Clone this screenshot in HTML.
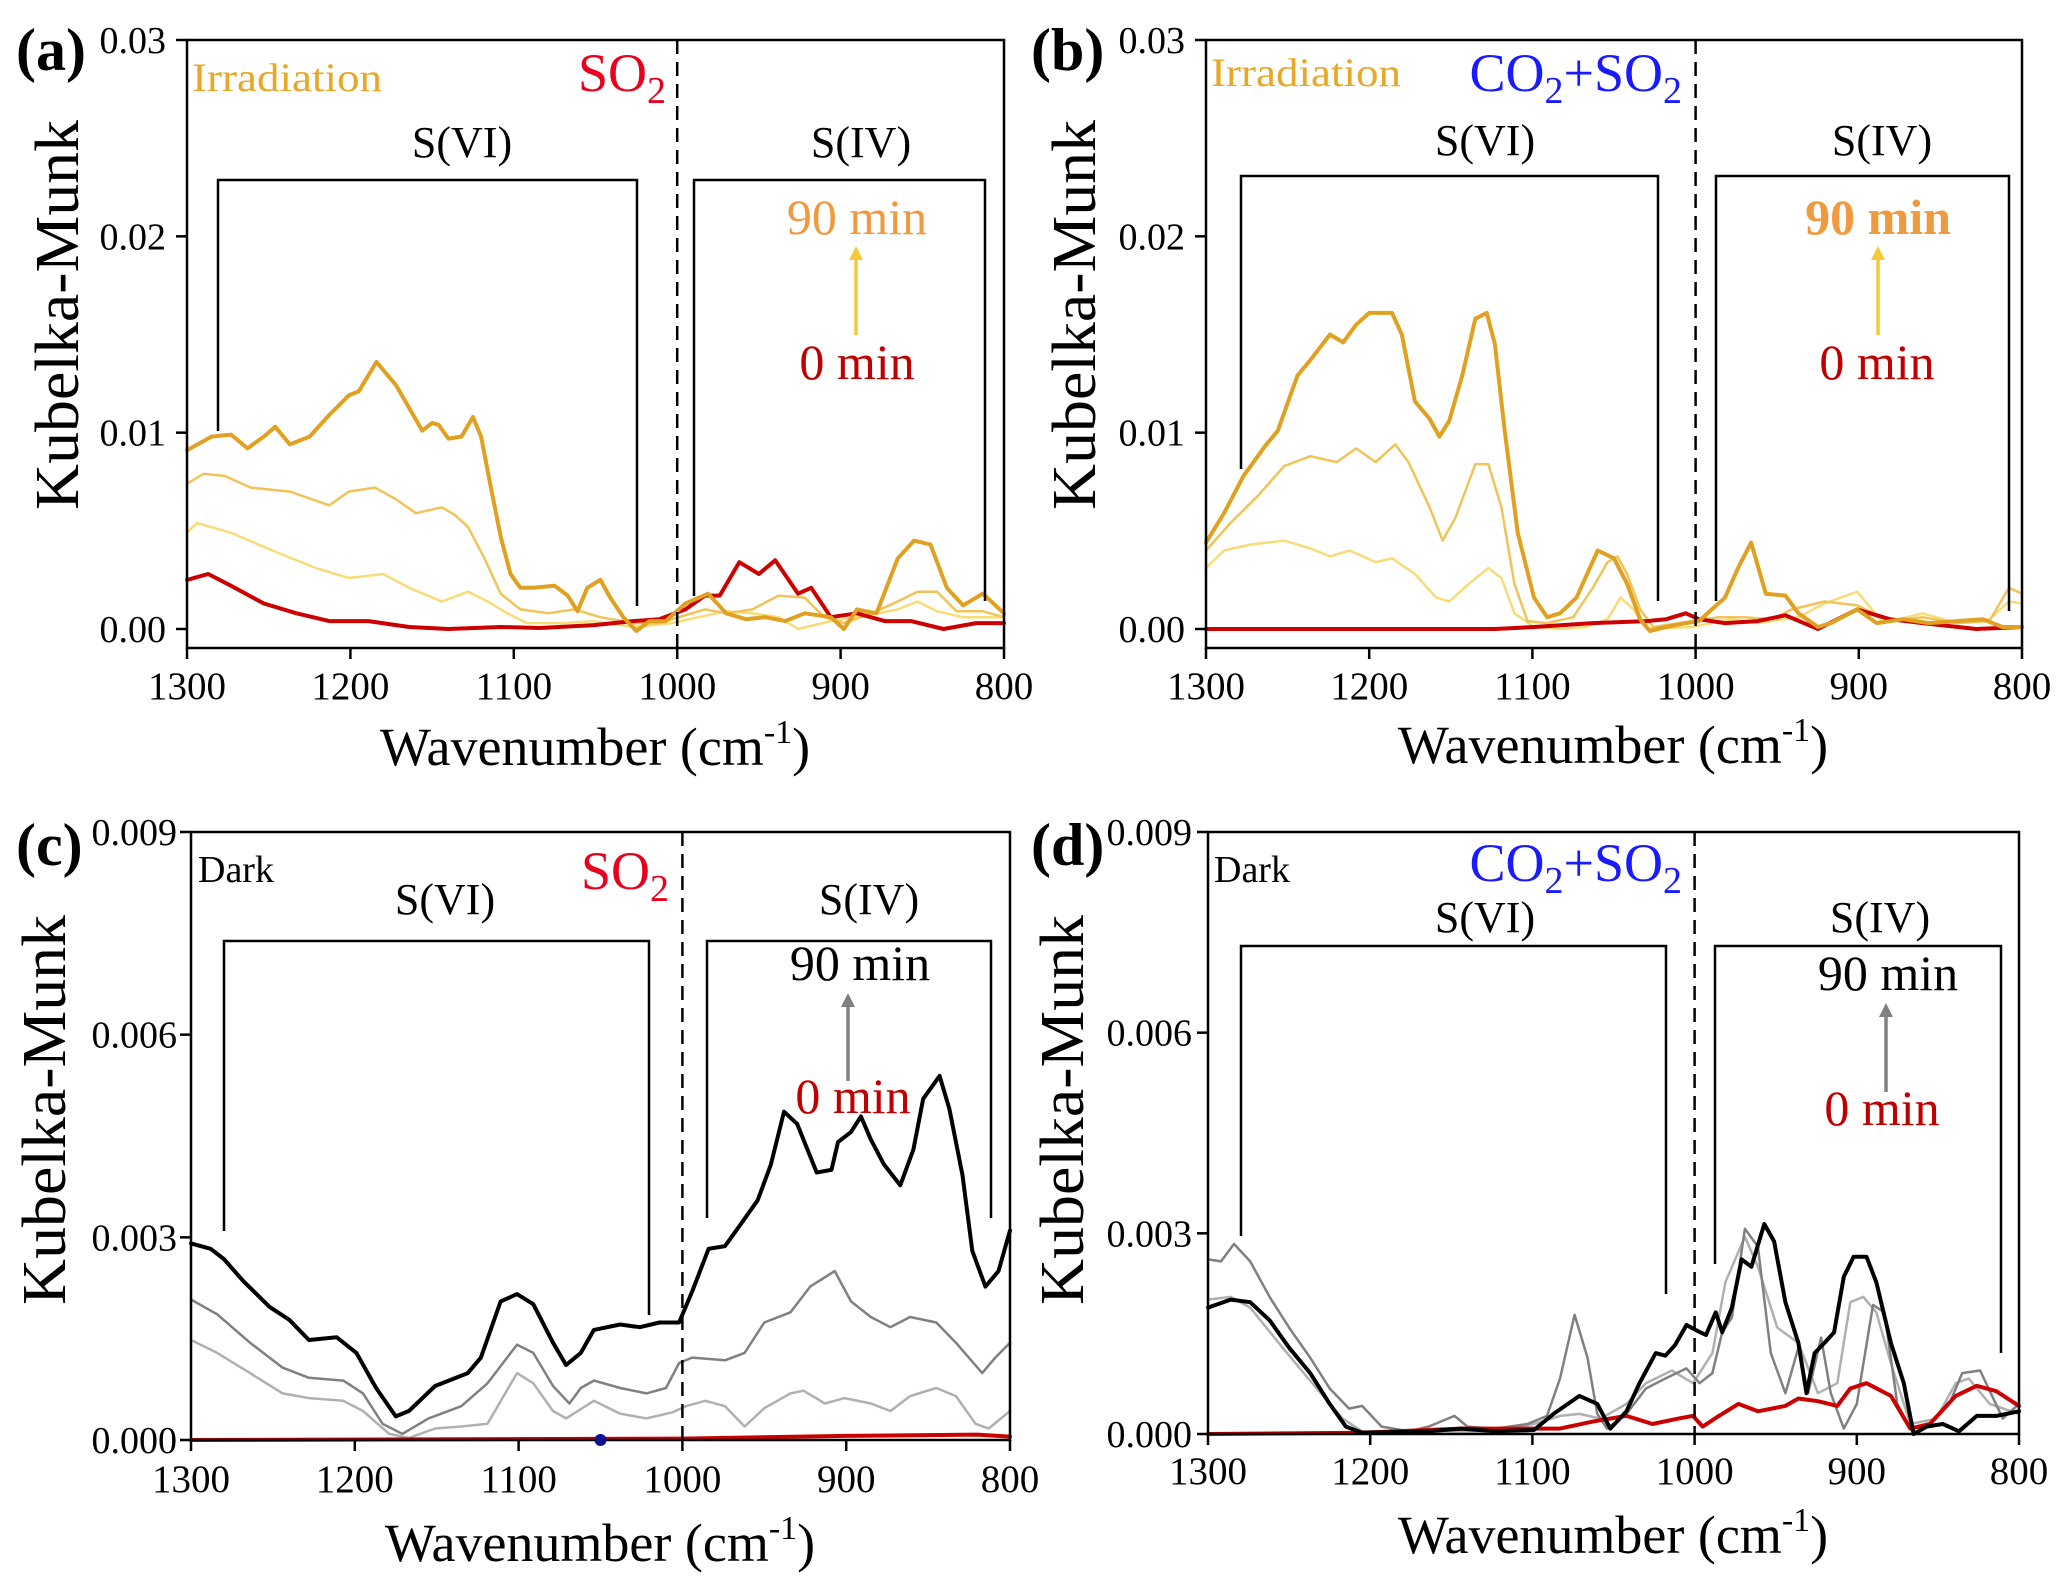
<!DOCTYPE html>
<html><head><meta charset="utf-8"><title>Kubelka-Munk spectra</title>
<style>
html,body{margin:0;padding:0;background:#fff;}
svg{display:block;font-family:"Liberation Serif",serif;}
</style></head>
<body>
<svg id="fig" xmlns="http://www.w3.org/2000/svg" width="2067" height="1590" viewBox="0 0 2067 1590"></svg>
<script>
// ---- data (values in units of 1e-3 Kubelka-Munk) ----
const xTicks = [1300, 1200, 1100, 1000, 900, 800];
const yTicksTop = [0, 0.01, 0.02, 0.03];
const yTickLabelsTop = ["0.00", "0.01", "0.02", "0.03"];
const yTicksBot = [0, 0.003, 0.006, 0.009];
const yTickLabelsBot = ["0.000", "0.003", "0.006", "0.009"];

// panel a
const aWn90 = [1300,1285,1273,1263,1253,1246,1237,1225,1213,1201,1195,1184,1172,1156,1150,1146,1140,1132,1125,1120,1114,1108,1102,1096,1088,1075,1067,1061,1055,1047,1041,1033,1025,1017,1007,995,981,970,958,946,934,922,906,898,890,878,865,855,845,835,825,813,800];
const aVal90 = [9.1,9.8,9.9,9.2,9.8,10.3,9.4,9.8,10.9,11.9,12.1,13.6,12.4,10.1,10.5,10.4,9.7,9.8,10.8,9.8,7.2,4.7,2.8,2.1,2.1,2.2,1.7,0.9,2.1,2.5,1.6,0.6,-0.1,0.4,0.4,1.3,1.8,0.8,0.5,0.6,0.4,0.8,0.6,0,1.0,0.8,3.6,4.5,4.3,2.1,1.2,1.8,0.8];
const aWn60 = [1300,1290,1277,1261,1237,1213,1201,1185,1172,1160,1144,1136,1128,1118,1108,1096,1079,1063,1047,1027,1011,999,983,970,954,938,922,910,898,881,865,853,841,829,813,800];
const aVal60 = [7.4,7.9,7.8,7.2,7.0,6.3,7.0,7.2,6.6,5.9,6.2,5.8,5.2,3.6,1.8,1.0,0.8,1.0,0.6,0.3,0.3,0.6,1.0,0.8,1.0,1.7,1.6,0.6,0.3,0.8,1.4,1.9,1.9,0.9,0.9,0.6];
const aWn30 = [1300,1294,1273,1245,1221,1201,1180,1164,1144,1128,1116,1104,1092,1071,1051,1027,1003,987,970,954,938,926,906,890,865,853,841,825,800];
const aVal30 = [4.9,5.4,4.9,3.9,3.1,2.6,2.8,2.1,1.4,1.9,1.4,0.8,0.3,0.3,0.4,0.1,0.3,0.6,0.9,0.8,0.6,0,0.4,0.6,1.0,1.4,0.9,0.6,0.6];
const aWn0 = [1300,1287,1273,1253,1233,1213,1189,1164,1140,1108,1084,1051,1027,1011,995,983,974,962,950,940,926,918,906,890,873,857,837,817,800];
const aVal0 = [2.5,2.8,2.2,1.3,0.8,0.4,0.4,0.1,0,0.1,0.05,0.2,0.4,0.5,1.0,1.7,1.7,3.4,2.8,3.5,1.8,2.1,0.6,0.8,0.4,0.4,0,0.3,0.3];

// panel b
const bWn90 = [1300,1289,1277,1264,1256,1244,1236,1224,1216,1208,1200,1186,1180,1172,1163,1157,1151,1143,1135,1128,1123,1117,1109,1099,1091,1083,1073,1060,1050,1042,1034,1028,1018,1006,998,990,982,974,966,957,945,937,925,917,901,889,873,857,840,824,812,800];
const bVal90 = [4.4,5.9,7.8,9.3,10.1,12.9,13.7,15.0,14.6,15.5,16.1,16.1,15.0,11.6,10.7,9.8,10.6,12.9,15.8,16.1,14.5,10.1,4.9,1.6,0.6,0.8,1.6,4.0,3.6,2.3,0.5,-0.1,0.1,0.3,0.4,1.0,1.6,3.1,4.4,1.8,1.7,0.8,0.1,0.3,1.0,0.3,0.5,0.3,0.4,0.5,0.1,0.1];
const bWn60 = [1300,1285,1268,1252,1236,1220,1208,1196,1184,1176,1163,1155,1147,1135,1127,1119,1111,1103,1091,1075,1063,1054,1048,1042,1034,1026,1002,986,970,953,941,921,901,881,861,840,820,808,800];
const bVal60 = [4.0,5.4,6.8,8.3,8.8,8.5,9.2,8.5,9.4,8.5,6.2,4.5,5.7,8.4,8.4,6.2,2.3,0.4,0.3,0.6,2.1,3.4,3.7,2.8,1.0,0.1,0.4,0.6,0.6,0.5,1.0,1.4,1.2,0.4,0.6,0.3,0.4,2.1,1.8];
const bWn30 = [1300,1289,1273,1252,1236,1224,1212,1196,1186,1172,1159,1151,1139,1127,1119,1111,1099,1083,1067,1054,1046,1038,1030,1002,978,962,937,921,901,885,861,840,820,808,800];
const bVal30 = [3.1,4.0,4.3,4.5,4.1,3.7,4.0,3.4,3.6,2.8,1.6,1.4,2.3,3.1,2.6,0.8,0.1,0,0.1,0.5,1.6,1.0,0,0.1,0.5,0.3,0.6,1.3,1.9,0.3,0.8,0.3,0.5,1.4,1.3];
const bWn0 = [1300,1123,1099,1063,1030,1018,1006,998,982,962,945,925,901,881,861,828,800];
const bVal0 = [0,0,0.1,0.3,0.4,0.5,0.8,0.5,0.3,0.4,0.7,0,1.0,0.5,0.3,0,0.1];

// panel c
const cWn90 = [1300,1288,1280,1268,1252,1240,1228,1211,1199,1187,1175,1167,1151,1131,1123,1111,1101,1091,1079,1071,1062,1054,1038,1026,1014,1002,994,984,974,966,954,946,938,930,918,909,905,897,891,885,877,867,859,853,843,837,829,823,815,807,800];
const cVal90 = [2.91,2.83,2.68,2.35,1.97,1.78,1.48,1.52,1.29,0.77,0.35,0.43,0.80,0.99,1.22,2.05,2.16,2.01,1.44,1.11,1.29,1.63,1.71,1.67,1.74,1.74,2.20,2.83,2.87,3.14,3.55,4.08,4.86,4.68,3.96,4.00,4.41,4.56,4.79,4.45,4.08,3.77,4.30,5.05,5.39,4.90,3.92,2.80,2.27,2.50,3.10];
const cWn60 = [1300,1284,1264,1244,1228,1207,1195,1183,1171,1155,1135,1119,1101,1091,1079,1069,1062,1054,1038,1022,1010,1002,994,974,962,950,934,922,907,897,885,873,861,845,833,817,809,800];
const cVal60 = [2.08,1.86,1.44,1.07,0.92,0.88,0.69,0.24,0.09,0.32,0.50,0.84,1.41,1.29,0.80,0.54,0.77,0.88,0.77,0.69,0.77,1.14,1.22,1.18,1.29,1.74,1.89,2.27,2.50,2.05,1.82,1.67,1.82,1.74,1.44,0.99,1.22,1.44];
const cWn30 = [1300,1284,1264,1244,1228,1207,1195,1179,1167,1151,1135,1119,1101,1091,1079,1071,1054,1038,1022,1006,998,986,974,962,950,934,926,913,901,885,873,861,845,833,821,813,800];
const cVal30 = [1.48,1.29,0.99,0.69,0.62,0.58,0.43,0.09,0.03,0.17,0.20,0.24,0.99,0.84,0.43,0.32,0.58,0.39,0.32,0.41,0.50,0.58,0.50,0.20,0.47,0.69,0.73,0.54,0.62,0.54,0.43,0.65,0.77,0.65,0.24,0.17,0.43];
const cWn0 = [1300,1000,900,820,800];
const cVal0 = [0,0.02,0.06,0.08,0.05];

// panel d
const dWn90 = [1300,1286,1274,1262,1250,1237,1225,1215,1205,1164,1144,1123,1099,1087,1071,1060,1052,1042,1034,1024,1018,1012,1005,999,993,987,983,977,971,965,957,951,944,936,931,926,920,914,908,902,894,888,879,871,865,857,847,837,826,814,800];
const dVal90 = [1.89,2.01,1.97,1.70,1.29,0.91,0.45,0.11,0.02,0.04,0.08,0.04,0.06,0.30,0.57,0.45,0.08,0.34,0.76,1.21,1.17,1.33,1.63,1.55,1.48,1.82,1.52,1.89,2.61,2.50,3.14,2.88,1.97,1.36,0.61,1.21,1.36,1.52,2.35,2.65,2.65,2.27,1.36,0.76,0,0.11,0.15,0.04,0.27,0.27,0.34];
const dWn60 = [1300,1292,1284,1274,1262,1250,1237,1225,1213,1205,1193,1176,1164,1148,1140,1123,1103,1091,1083,1074,1066,1060,1054,1042,1030,1018,1005,997,989,983,977,969,961,953,944,936,930,922,916,908,900,890,883,875,867,855,843,835,824,810,800];
const dVal60 = [2.61,2.58,2.84,2.58,2.05,1.59,1.14,0.68,0.38,0.42,0.11,0.04,0.11,0.27,0.11,0.08,0.15,0.27,0.83,1.78,1.14,0.30,0.08,0.30,0.68,0.83,0.98,0.76,0.91,1.52,1.74,3.07,2.80,1.21,0.61,1.29,0.61,1.44,0.61,0.08,0.45,1.93,1.82,0.45,0.08,0.15,0.45,0.91,0.95,0.23,0.45];
const dWn30 = [1300,1286,1274,1254,1233,1217,1205,1123,1099,1083,1071,1058,1042,1030,1014,1001,989,981,969,961,949,936,924,912,904,896,888,879,867,851,839,831,818,800];
const dVal30 = [2.01,2.05,1.89,1.29,0.68,0.23,0.04,0.04,0.15,0.27,0.30,0.23,0.45,0.76,0.95,0.76,1.21,2.27,2.95,2.50,1.59,1.36,0.61,0.76,1.97,2.05,1.82,1.06,0.15,0.23,0.76,0.83,0.45,0.30];
const dWn0 = [1300,1205,1144,1083,1062,1042,1026,1010,1001,995,985,973,961,944,936,924,912,904,894,879,867,855,839,826,814,800];
const dVal0 = [0,0.02,0.08,0.08,0.19,0.27,0.15,0.23,0.27,0.11,0.27,0.45,0.34,0.42,0.53,0.49,0.42,0.68,0.76,0.57,0.08,0.15,0.57,0.72,0.64,0.42];

const NS = "http://www.w3.org/2000/svg";
const svg = document.getElementById("fig");
function mk(tag, attrs, parent) {
  const e = document.createElementNS(NS, tag);
  for (const k in attrs) e.setAttribute(k, attrs[k]);
  (parent || svg).appendChild(e);
  return e;
}
function txt(s, attrs, parent, name) {
  const t = mk("text", attrs, parent);
  t.textContent = s;
  
  
  return t;
}

const panels = [
  {id:"a", L:187, R:1004, T:40, B:648, y0:629, ymax:0.03, ticks:yTicksTop, tlabels:yTickLabelsTop, tickRight:166,
   series:[[aWn30,aVal30,"#f8dc78",2.5,"series-30min"],[aWn60,aVal60,"#f0c458",2.5,"series-60min"],[aWn0,aVal0,"#cc0000",4,"series-0min"],[aWn90,aVal90,"#e0a020",4,"series-90min"]],
   xlabBase:699, xlabCx:595, xlabBaseY:765, ylabX:58, ylabY:315, letter:"(a)", letterX:16, letterY:70},
  {id:"b", L:1206, R:2022, T:40, B:648, y0:629, ymax:0.03, ticks:yTicksTop, tlabels:yTickLabelsTop, tickRight:1185,
   series:[[bWn30,bVal30,"#f8dc78",2.5,"series-30min"],[bWn60,bVal60,"#f0c458",2.5,"series-60min"],[bWn0,bVal0,"#cc0000",4,"series-0min"],[bWn90,bVal90,"#e0a020",4,"series-90min"]],
   xlabBase:699, xlabCx:1613, xlabBaseY:763, ylabX:1075, ylabY:315, letter:"(b)", letterX:1031, letterY:70},
  {id:"c", L:191, R:1010, T:832, B:1440, y0:1440, ymax:0.009, ticks:yTicksBot, tlabels:yTickLabelsBot, tickRight:177,
   series:[[cWn30,cVal30,"#b0b0b0",2.5,"series-30min"],[cWn60,cVal60,"#808080",2.5,"series-60min"],[cWn90,cVal90,"#000000",4,"series-90min"],[cWn0,cVal0,"#cc0000",4,"series-0min"]],
   xlabBase:1492, xlabCx:600, xlabBaseY:1561, ylabX:45, ylabY:1110, letter:"(c)", letterX:16, letterY:865},
  {id:"d", L:1208, R:2019, T:832, B:1434, y0:1434, ymax:0.009, ticks:yTicksBot, tlabels:yTickLabelsBot, tickRight:1192,
   series:[[dWn30,dVal30,"#b0b0b0",2.5,"series-30min"],[dWn60,dVal60,"#808080",2.5,"series-60min"],[dWn0,dVal0,"#cc0000",4,"series-0min"],[dWn90,dVal90,"#000000",4,"series-90min"]],
   xlabBase:1484, xlabCx:1613, xlabBaseY:1553, ylabX:1063, ylabY:1110, letter:"(d)", letterX:1031, letterY:865}
];

panels.forEach(p => {
  const g = mk("g", {});
  
  
  const xs = wn => p.L + (1300 - wn) / 500 * (p.R - p.L);
  const ys = v => p.y0 - v / p.ymax * (p.y0 - p.T);

  p.series.forEach(s => {
    const [wn, val, col, w, nm] = s;
    let d = "";
    for (let i = 0; i < wn.length; i++) {
      d += (i ? "L" : "M") + xs(wn[i]).toFixed(1) + " " + ys(val[i] / 1000).toFixed(1);
    }
    const path = mk("path", {d:d, fill:"none", stroke:col, "stroke-width":w, "stroke-linejoin":"round", "stroke-linecap":"round"}, g);
    
    
  });

  const fr = mk("rect", {x:p.L, y:p.T, width:p.R-p.L, height:p.B-p.T, fill:"none", stroke:"#000", "stroke-width":2.5}, g);
  
  

  const dl = mk("line", {x1:xs(1000), x2:xs(1000), y1:p.T, y2:p.B, stroke:"#000", "stroke-width":2.5, "stroke-dasharray":"14 8"}, g);
  
  

  p.ticks.forEach((t, i) => {
    const y = ys(t);
    const tk = mk("line", {x1:p.L-11, x2:p.L, y1:y, y2:y, stroke:"#000", "stroke-width":2.5}, g);
    
    
    txt(p.tlabels[i], {x:p.tickRight, y:y+13, "font-size":38, "text-anchor":"end"}, g, 'y-tick-label');
  });
  xTicks.forEach(t => {
    const x = xs(t);
    const tk = mk("line", {x1:x, x2:x, y1:p.B, y2:p.B+11, stroke:"#000", "stroke-width":2.5}, g);
    
    
    txt(String(t), {x:x, y:p.xlabBase, "font-size":39, "text-anchor":"middle"}, g, 'x-tick-label');
  });

  const xt = txt("", {x:p.xlabCx, y:p.xlabBaseY, "font-size":54, "text-anchor":"middle"}, g, 'x-axis-title');
  xt.innerHTML = 'Wavenumber (cm<tspan dy="-22" font-size="34">-1</tspan><tspan dy="22">)</tspan>';
  txt("Kubelka-Munk", {x:0, y:0, "font-size":62, "text-anchor":"middle", transform:`translate(${p.ylabX + 20},${p.ylabY}) rotate(-90)`, textLength:390, lengthAdjust:"spacingAndGlyphs"}, g, 'y-axis-title');
  txt(p.letter, {x:p.letterX, y:p.letterY, "font-size":60, "font-weight":"bold"}, g, 'panel-label');
});

function bracket(x1, x2, y, yl, yr, name) {
  const pl = mk("polyline", {points:`${x1},${yl} ${x1},${y} ${x2},${y} ${x2},${yr}`, fill:"none", stroke:"#000", "stroke-width":2.5});
  
  
}
function arrow(x, y1, y2, col, name) {
  const g = mk("g", {});
  
  
  mk("line", {x1:x, x2:x, y1:y1, y2:y2+12, stroke:col, "stroke-width":3.5}, g);
  mk("polygon", {points:`${x-7},${y2+14} ${x+7},${y2+14} ${x},${y2}`, fill:col}, g);
}
function gas(rightX, y, co2, name) {
  const t = txt("", {x:rightX, y:y, "font-size":54, "text-anchor":"end", fill: co2 ? "#1a1aff" : "#e8001c"}, svg, name);
  t.innerHTML = co2 ? 'CO<tspan font-size="38" dy="12">2</tspan><tspan dy="-12">+SO</tspan><tspan font-size="38" dy="12">2</tspan>'
                    : 'SO<tspan font-size="38" dy="12">2</tspan>';
}

// panel a
txt("Irradiation", {x:192, y:91, "font-size":40, fill:"#e6a826", textLength:190, lengthAdjust:"spacingAndGlyphs"}, svg, 'condition-label');
gas(666, 91, false, 'gas-label');
bracket(218, 637, 180, 431, 606, 's6-bracket');
txt("S(VI)", {x:462, y:157, "font-size":44, "text-anchor":"middle"}, svg, 's6-label');
bracket(694, 985, 180, 596, 601, 's4-bracket');
txt("S(IV)", {x:861, y:157, "font-size":44, "text-anchor":"middle"}, svg, 's4-label');
txt("90 min", {x:857, y:234, "font-size":50, "text-anchor":"middle", fill:"#f09a40"}, svg, 'label-90min');
arrow(856, 335, 246, "#f5c838", 'time-arrow');
txt("0 min", {x:857, y:379, "font-size":50, "text-anchor":"middle", fill:"#c00000"}, svg, 'label-0min');

// panel b
txt("Irradiation", {x:1211, y:86, "font-size":40, fill:"#e6a826", textLength:190, lengthAdjust:"spacingAndGlyphs"}, svg, 'condition-label');
gas(1682, 91, true, 'gas-label');
bracket(1241, 1658, 176, 469, 601, 's6-bracket');
txt("S(VI)", {x:1485, y:155, "font-size":44, "text-anchor":"middle"}, svg, 's6-label');
bracket(1716, 2009, 176, 601, 611, 's4-bracket');
txt("S(IV)", {x:1882, y:155, "font-size":44, "text-anchor":"middle"}, svg, 's4-label');
txt("90 min", {x:1878, y:234, "font-size":50, "font-weight":"bold", "text-anchor":"middle", fill:"#f09a40"}, svg, 'label-90min');
arrow(1878, 335, 246, "#f5c838", 'time-arrow');
txt("0 min", {x:1877, y:379, "font-size":50, "text-anchor":"middle", fill:"#c00000"}, svg, 'label-0min');

// panel c
txt("Dark", {x:198, y:882, "font-size":38}, svg, 'condition-label');
gas(669, 889, false, 'gas-label');
bracket(224, 649, 941, 1231, 1315, 's6-bracket');
txt("S(VI)", {x:445, y:914, "font-size":44, "text-anchor":"middle"}, svg, 's6-label');
bracket(707, 991, 941, 1218, 1218, 's4-bracket');
txt("S(IV)", {x:869, y:914, "font-size":44, "text-anchor":"middle"}, svg, 's4-label');
txt("90 min", {x:860, y:980, "font-size":50, "text-anchor":"middle"}, svg, 'label-90min');
arrow(848, 1081, 993, "#808080", 'time-arrow');
txt("0 min", {x:853, y:1113, "font-size":50, "text-anchor":"middle", fill:"#c00000"}, svg, 'label-0min');
const dot = mk("circle", {cx:191 + (1300-1050)/500*819, cy:1440, r:6, fill:"#101090"});



// panel d
txt("Dark", {x:1214, y:882, "font-size":38}, svg, 'condition-label');
gas(1682, 881, true, 'gas-label');
bracket(1241, 1666, 946, 1236, 1294, 's6-bracket');
txt("S(VI)", {x:1485, y:932, "font-size":44, "text-anchor":"middle"}, svg, 's6-label');
bracket(1715, 2001, 946, 1264, 1353, 's4-bracket');
txt("S(IV)", {x:1880, y:932, "font-size":44, "text-anchor":"middle"}, svg, 's4-label');
txt("90 min", {x:1888, y:990, "font-size":50, "text-anchor":"middle"}, svg, 'label-90min');
arrow(1886, 1092, 1003, "#808080", 'time-arrow');
txt("0 min", {x:1882, y:1125, "font-size":50, "text-anchor":"middle", fill:"#c00000"}, svg, 'label-0min');
</script>
</body></html>
